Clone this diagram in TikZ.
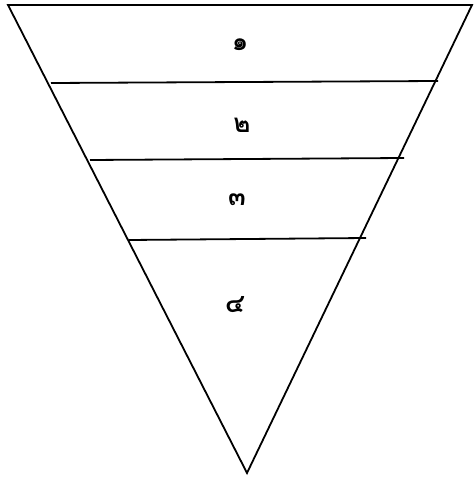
\documentclass[tikz,border=0pt]{standalone}
\usepackage{fontspec}
\newfontfamily\thaifont[Script=Thai]{Loma}
\usepackage{tikz}
\usetikzlibrary{positioning}

\tikzset{
    layer/.style={line width=1.8pt, black},
    lvl/.style={font=\thaifont\bfseries\fontsize{26}{26}\selectfont, inner sep=0pt}
}

\begin{document}
\begin{tikzpicture}[x=1pt, y=-1pt]
    \useasboundingbox (0,0) rectangle (475,478);
    % outer triangle
    \coordinate (tl) at (8,5);
    \coordinate (tr) at (472,5);
    \coordinate (apex) at (247,473);
    \draw[layer, line join=miter] (tl) -- (tr) -- (apex) -- cycle;

    % dividing lines
    \coordinate (a1) at (51,83);  \coordinate (b1) at (438,81);
    \coordinate (a2) at (90,160); \coordinate (b2) at (404,158);
    \coordinate (a3) at (129,240); \coordinate (b3) at (366,238);
    \draw[layer] (a1) -- (b1);
    \draw[layer] (a2) -- (b2);
    \draw[layer] (a3) -- (b3);

    % level numbers
    \node[lvl] (n1) at (240,45) {๑};
    \node[lvl] (n2) at (242,125) {๒};
    \node[lvl] (n3) at (237,200) {๓};
    \node[lvl] (n4) at (235,305) {๔};
\end{tikzpicture}
\end{document}
